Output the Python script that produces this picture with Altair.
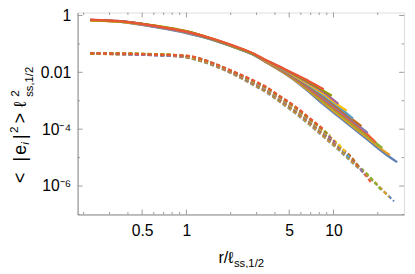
import altair as alt
import pandas as pd

# ---------------- data ----------------
GRID = [0.222, 0.38, 0.63, 1.0, 1.58, 2.15, 2.93, 3.41, 4.30, 5.41, 6.81,
        8.58, 10.8, 13.6, 17.1, 21.5, 27.1]

# solid (upper) family, curve 1 = longest ... curve 11 = shortest
s01_x = GRID[:17]
s01_y = [0.688, 0.574, 0.380, 0.239, 0.1269, 0.0728, 0.0386, 0.0239, 0.01172, 0.0053, 0.00204, 0.00073, 2.81e-4, 1.08e-4, 4.18e-5, 1.61e-5, 6.9e-6]
s02_x = GRID[:16] + [24.2]
s02_y = [0.699, 0.597, 0.408, 0.261, 0.1331, 0.0757, 0.0398, 0.0243, 0.0121, 0.00558, 0.00223, 0.00083, 3.19e-4, 1.24e-4, 4.82e-5, 1.87e-5, 1.22e-5]
s03_x = GRID[:16]
s03_y = [0.683, 0.578, 0.392, 0.255, 0.1310, 0.0739, 0.0392, 0.0247, 0.0125, 0.00587, 0.00243, 0.00093, 3.65e-4, 1.42e-4, 5.56e-5, 2.16e-5]
s04_x = GRID[:15] + [19.4]
s04_y = [0.705, 0.602, 0.414, 0.268, 0.1363, 0.0776, 0.0404, 0.0251, 0.01289, 0.00618, 0.00265, 0.00106, 4.14e-4, 1.64e-4, 6.41e-5, 3.4e-5]
s05_x = GRID[:15]
s05_y = [0.694, 0.587, 0.398, 0.274, 0.1331, 0.0751, 0.0398, 0.0255, 0.0133, 0.00652, 0.0029, 0.0012, 4.74e-4, 1.87e-4, 7.45e-5]
s06_x = GRID[:14] + [15.5]
s06_y = [0.678, 0.597, 0.418, 0.270, 0.1374, 0.0788, 0.0411, 0.0259, 0.01374, 0.00686, 0.00316, 0.00136, 5.4e-4, 2.14e-4, 1.27e-4]
s07_x = GRID[:14]
s07_y = [0.688, 0.602, 0.411, 0.263, 0.1341, 0.0769, 0.0404, 0.0264, 0.0142, 0.00722, 0.00345, 0.00153, 6.2e-4, 2.34e-4]
s08_x = GRID[:13] + [12.3]
s08_y = [0.672, 0.583, 0.424, 0.276, 0.1396, 0.0776, 0.0418, 0.0268, 0.01465, 0.0076, 0.00377, 0.00174, 7.0e-4, 4.5e-4]
s09_x = GRID[:13]
s09_y = [0.694, 0.611, 0.401, 0.259, 0.1352, 0.0788, 0.0411, 0.0272, 0.0151, 0.0080, 0.00411, 0.00197, 7.7e-4]
s10_x = GRID[:12] + [9.74]
s10_y = [0.683, 0.592, 0.434, 0.281, 0.1374, 0.0788, 0.0418, 0.0276, 0.0156, 0.00843, 0.00449, 0.00223, 0.00149]
s11_x = GRID[:12]
s11_y = [0.699, 0.606, 0.418, 0.270, 0.1429, 0.0820, 0.0434, 0.0281, 0.0161, 0.00887, 0.0049, 0.00253]

# dashed (lower) family
d01_x = GRID[:16] + [25.8]
d01_y = [0.0463, 0.0438, 0.0414, 0.0329, 0.0161, 0.00788, 0.00329, 0.00213, 0.000924, 3.86e-4, 1.49e-4, 5.30e-5, 1.89e-5, 6.21e-6, 2.21e-6, 7.28e-7, 2.9e-7]
d02_x = GRID[:15] + [23.9]
d02_y = [0.0459, 0.0448, 0.0401, 0.0334, 0.0164, 0.00807, 0.00342, 0.00222, 0.000969, 4.08e-4, 1.57e-4, 5.60e-5, 2.01e-5, 6.67e-6, 2.38e-6, 4.1e-7]
d03_x = GRID[:15] + [21.2]
d03_y = [0.0467, 0.0434, 0.0431, 0.0340, 0.0168, 0.00827, 0.00356, 0.00232, 0.00102, 4.31e-4, 1.66e-4, 5.97e-5, 2.14e-5, 7.16e-6, 2.55e-6, 6.9e-7]
d04_x = GRID[:14] + [18.0]
d04_y = [0.0452, 0.0459, 0.0411, 0.0345, 0.0171, 0.00847, 0.00371, 0.00242, 0.00107, 4.56e-4, 1.76e-4, 6.36e-5, 2.28e-5, 7.69e-6, 1.34e-6]
d05_x = GRID[:14] + [16.3]
d05_y = [0.0474, 0.0445, 0.0392, 0.0350, 0.0174, 0.00867, 0.00386, 0.00253, 0.00112, 4.82e-4, 1.86e-4, 6.78e-5, 2.43e-5, 8.27e-6, 2.6e-6]
d06_x = GRID[:14] + [15.1]
d06_y = [0.0463, 0.0424, 0.0438, 0.0356, 0.0178, 0.00888, 0.00401, 0.00265, 0.00117, 5.09e-4, 1.96e-4, 7.19e-5, 2.59e-5, 8.88e-6, 4.1e-6]
d07_x = GRID[:13] + [13.0]
d07_y = [0.0459, 0.0431, 0.0398, 0.0362, 0.0181, 0.00909, 0.00418, 0.00276, 0.00123, 5.38e-4, 2.08e-4, 7.63e-5, 2.76e-5, 9.0e-6]
d08_x = GRID[:13] + [12.0]
d08_y = [0.0445, 0.0452, 0.0424, 0.0368, 0.0185, 0.00931, 0.00434, 0.00289, 0.00129, 5.69e-4, 2.19e-4, 8.13e-5, 2.94e-5, 1.65e-5]
d09_x = GRID[:12] + [10.3]
d09_y = [0.0467, 0.0438, 0.0404, 0.0374, 0.0189, 0.00953, 0.00452, 0.00302, 0.00135, 6.02e-4, 2.32e-4, 8.67e-5, 3.4e-5]
d10_x = GRID[:12] + [9.5]
d10_y = [0.0456, 0.0467, 0.0431, 0.0380, 0.0193, 0.00977, 0.00470, 0.00315, 0.00142, 6.36e-4, 2.45e-4, 9.17e-5, 5.9e-5]
d11_x = GRID[:12]
d11_y = [0.0470, 0.0452, 0.0418, 0.0386, 0.0196, 0.0100, 0.00489, 0.00329, 0.00149, 6.72e-4, 2.59e-4, 9.77e-5]

CURVES = ["c01", "c02", "c03", "c04", "c05", "c06", "c07", "c08", "c09", "c10", "c11"]
PALETTE = ["#5E81B5", "#E19C24", "#8FB032", "#EB6235", "#8778B3", "#C56E1A",
           "#5D9EC7", "#FFBF00", "#A5609D", "#929600", "#E95536"]

XTICK_VALUES = [0.5, 1, 5, 10]
XTICK_LABELS = ["0.5", "1", "5", "10"]
XMINOR = [0.2, 0.3, 0.4, 0.6, 0.7, 0.8, 0.9, 2, 3, 4, 6, 7, 8, 9, 20]
YTICK_VALUES = [1, 0.01, 1e-4, 1e-6]
YTICK_LABELS = ["1", "0.01", "10\u207b\u2074", "10\u207b\u2076"]
YMINOR = [0.1, 1e-3, 1e-5, 1e-7]

XTITLE_MAIN = "r/\u2113"
XTITLE_SUB = "ss,1/2"
YTITLE_PARTS = ["<", "|", "e", "i", "|", "2", ">", "\u2113", "2", "ss,1/2"]

# ---------------- build table ----------------
solid = [(s01_x, s01_y), (s02_x, s02_y), (s03_x, s03_y), (s04_x, s04_y), (s05_x, s05_y),
         (s06_x, s06_y), (s07_x, s07_y), (s08_x, s08_y), (s09_x, s09_y), (s10_x, s10_y),
         (s11_x, s11_y)]
dashed = [(d01_x, d01_y), (d02_x, d02_y), (d03_x, d03_y), (d04_x, d04_y), (d05_x, d05_y),
          (d06_x, d06_y), (d07_x, d07_y), (d08_x, d08_y), (d09_x, d09_y), (d10_x, d10_y),
          (d11_x, d11_y)]


def table(curves):
    rows = []
    for name, (xs, ys) in zip(CURVES, curves):
        for j, (xv, yv) in enumerate(zip(xs, ys)):
            rows.append({"x": xv, "y": yv, "curve": name, "ord": j})
    return pd.DataFrame(rows)


df_s = table(solid)
df_d = table(dashed)

W, H = 333, 206
PLOT_LEFT, PLOT_TOP = 79, 10
FONT = "Liberation Sans"

xscale = alt.Scale(type="log", domain=[0.182, 30.2], nice=False, zero=False)
yscale = alt.Scale(type="log", domain=[1e-7, 1.27], nice=False, zero=False)


def expr(values, labels):
    e = "''"
    for v, l in zip(values, labels):
        e = f"abs(datum.value - {v}) < {v}*1e-6 ? '{l}' : " + e
    return e


xaxis = alt.Axis(values=XTICK_VALUES, labelExpr=expr(XTICK_VALUES, XTICK_LABELS),
                 ticks=False, grid=False, domainColor="#8a8a8a", labelFont=FONT,
                 labelFontSize=16, labelColor="black", labelPadding=8,
                 labelOverlap=False, labelFlush=False, title=None)
yaxis = alt.Axis(values=YTICK_VALUES, labelExpr=expr(YTICK_VALUES, YTICK_LABELS),
                 ticks=False, grid=False, domainColor="#8a8a8a", labelFont=FONT,
                 labelFontSize=16, labelColor="black", labelPadding=7,
                 labelOverlap=False, labelFlush=False, title=None)

color = alt.Color("curve:N", scale=alt.Scale(domain=CURVES, range=PALETTE), legend=None)

solid_layer = alt.Chart(df_s).mark_line(strokeWidth=2.3, interpolate="monotone").encode(
    x=alt.X("x:Q", scale=xscale, axis=xaxis),
    y=alt.Y("y:Q", scale=yscale, axis=yaxis),
    color=color, order="ord:Q")

dashed_layer = alt.Chart(df_d).mark_line(strokeWidth=2.2, strokeDash=[4, 2.5],
                                          interpolate="monotone").encode(
    x=alt.X("x:Q", scale=xscale, axis=xaxis),
    y=alt.Y("y:Q", scale=yscale, axis=yaxis),
    color=color, order="ord:Q")

TICK_COLOR = "#9a9a9a"


def xticks(vals, length):
    d = pd.DataFrame({"v": vals})
    bottom = alt.Chart(d).mark_rule(color=TICK_COLOR, strokeWidth=1).encode(
        x=alt.X("v:Q", scale=xscale, axis=xaxis), y=alt.value(H), y2=alt.value(H - length))
    top = alt.Chart(d).mark_rule(color=TICK_COLOR, strokeWidth=1).encode(
        x=alt.X("v:Q", scale=xscale, axis=xaxis), y=alt.value(0), y2=alt.value(length))
    return [bottom, top]


def yticks(vals, length):
    d = pd.DataFrame({"v": vals})
    left = alt.Chart(d).mark_rule(color=TICK_COLOR, strokeWidth=1).encode(
        y=alt.Y("v:Q", scale=yscale, axis=yaxis), x=alt.value(0), x2=alt.value(length))
    right = alt.Chart(d).mark_rule(color=TICK_COLOR, strokeWidth=1).encode(
        y=alt.Y("v:Q", scale=yscale, axis=yaxis), x=alt.value(W), x2=alt.value(W - length))
    return [left, right]


tick_layers = xticks(XTICK_VALUES, 5) + xticks(XMINOR, 2.5) + yticks(YTICK_VALUES, 5) + yticks(YMINOR, 2.5)

one = pd.DataFrame({"k": [0]})


def label(text, px, py, size, angle=0, align="left", italic=False):
    kw = dict(font=FONT, fontSize=size, align=align, baseline="alphabetic", color="black")
    if angle:
        kw["angle"] = angle
    if italic:
        kw["fontStyle"] = "italic"
    return alt.Chart(one).mark_text(**kw).encode(
        x=alt.value(px - PLOT_LEFT), y=alt.value(py - PLOT_TOP), text=alt.value(text))


# style/positions of title pieces (page pixels)
ystyle = [(26, 184, 18, False), (26, 162, 18, False), (26, 155, 18, False), (29.5, 145, 12, True),
          (26, 139, 18, False), (18, 133, 12, False), (26, 123, 18, False), (26, 107, 18, False),
          (19, 96, 12, False), (34, 96, 11.5, False)]
title_layers = [label(XTITLE_MAIN, 238, 266, 16.5, align="right"),
                label(XTITLE_SUB, 238.5, 270, 11.5)]
for t, (px, py, sz, it) in zip(YTITLE_PARTS, ystyle):
    title_layers.append(label(t, px, py, sz, angle=270, italic=it))

chart = alt.layer(solid_layer, dashed_layer, *tick_layers, *title_layers).properties(
    width=W, height=H,
    autosize=alt.AutoSizeParams(type="none"),
    padding={"left": PLOT_LEFT - 8, "top": PLOT_TOP - 8, "right": 3, "bottom": 52},
).configure_view(stroke="#a8a8a8", strokeWidth=1).configure(background="white")

chart.save("out.html", embed_options={"renderer": "svg", "actions": False})
